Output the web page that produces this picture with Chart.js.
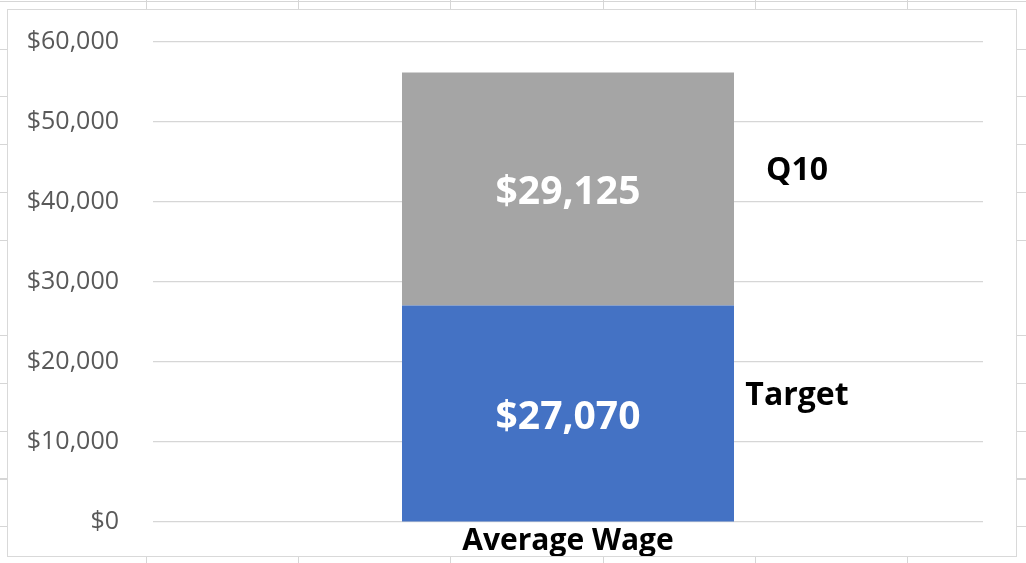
<!DOCTYPE html>
<html>
<head>
<meta charset="utf-8">
<script src="https://cdn.jsdelivr.net/npm/chart.js@4/dist/chart.umd.min.js"></script>
<style>
    html, body {
        margin: 0;
        width: 1026px;
        height: 563px;
        overflow: hidden;
    }
    body {
        background-color: #fff;
        background-image:
            repeating-linear-gradient(to right, transparent 0, transparent 146px, #d6d6d6 146px, #d6d6d6 147px, transparent 147px, transparent 152.2px),
            repeating-linear-gradient(to bottom, transparent 0, transparent 1px, #d6d6d6 1px, #d6d6d6 2px, transparent 2px, transparent 47.75px);
    }
    #box {
        position: absolute;
        left: 7px;
        top: 9px;
        width: 1008px;
        height: 546px;
        border: 1px solid #d9d9d9;
        background: #fff;
    }
    canvas {
        display: block;
    }
</style>
</head>
<body>
<div id="box"><canvas id="wage-chart" width="1008" height="546"></canvas></div>
<script>
    const categories = ['Average Wage'];
    const seriesNames = ['Target', 'Q10'];
    const targetValues = [27070];
    const q10Values = [29125];
    const seriesColors = ['#4472C4', '#A5A5A5'];
    const yTicks = [0, 10000, 20000, 30000, 40000, 50000, 60000];

    const money = value => '$' + Number(value).toLocaleString('en-US');

    // value in the middle of each segment, series name to the right of the bar
    const barLabels = {
        id: 'barLabels',
        afterDatasetsDraw(chart) {
            const ctx = chart.ctx;
            ctx.save();
            chart.data.datasets.forEach((dataset, i) => {
                const meta = chart.getDatasetMeta(i);
                meta.data.forEach((bar, j) => {
                    const middle = (bar.y + bar.base) / 2;
                    ctx.fillStyle = '#ffffff';
                    ctx.font = 'bold 39px "Open Sans"';
                    ctx.textAlign = 'center';
                    ctx.textBaseline = 'middle';
                    ctx.fillText(money(dataset.data[j]), bar.x, middle + 4);

                    ctx.fillStyle = '#000000';
                    ctx.font = 'bold 32px "Open Sans"';
                    ctx.fillText(dataset.label, bar.x + bar.width / 2 + 63, middle - 18);
                });
            });
            ctx.restore();
        }
    };

    new Chart(document.getElementById('wage-chart'), {
        type: 'bar',
        data: {
            labels: categories,
            datasets: [
                {
                    label: seriesNames[0],
                    data: targetValues,
                    backgroundColor: seriesColors[0],
                },
                {
                    label: seriesNames[1],
                    data: q10Values,
                    backgroundColor: seriesColors[1],
                }
            ]
        },
        options: {
            responsive: false,
            animation: false,
            barPercentage: 0.4,
            categoryPercentage: 1,
            layout: {
                padding: {top: 32, right: 33, bottom: 0, left: 0}
            },
            plugins: {
                legend: {display: false},
                tooltip: {enabled: false}
            },
            scales: {
                x: {
                    stacked: true,
                    grid: {display: false, drawTicks: false},
                    border: {display: false},
                    ticks: {
                        color: '#000000',
                        font: {family: 'Open Sans', size: 30, weight: 'bold', lineHeight: 1},
                        padding: 4
                    },
                    afterFit(scale) {
                        scale.height = 34;
                    }
                },
                y: {
                    stacked: true,
                    min: 0,
                    max: 60000,
                    afterBuildTicks(scale) {
                        scale.ticks = yTicks.map(v => ({value: v}));
                    },
                    grid: {color: '#d6d6d6', lineWidth: 1.2, drawTicks: false},
                    border: {display: false},
                    ticks: {
                        color: '#595959',
                        font: {family: 'Open Sans', size: 25},
                        padding: 34,
                        callback: value => money(value)
                    },
                    afterFit(scale) {
                        scale.width = 145;
                        scale.paddingTop = 0;
                        scale.paddingBottom = 0;
                    }
                }
            }
        },
        plugins: [barLabels]
    });
</script>
</body>
</html>
